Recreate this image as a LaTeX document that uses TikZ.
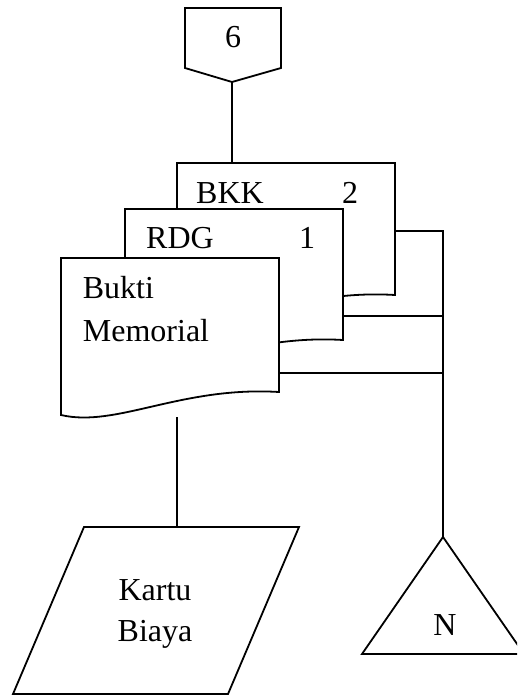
\documentclass[tikz,border=0pt]{standalone}
\usepackage{fontspec}
\setmainfont{Liberation Serif}
\begin{document}
\begin{tikzpicture}[x=1pt,y=-1pt,line width=1.8pt,line join=miter,
  lbl/.style={inner sep=0pt,anchor=base,font=\fontsize{32}{40}\selectfont},
  lbll/.style={lbl,anchor=base west},
  shp/.style={draw,fill=white},
  wire/.style={draw}]
\useasboundingbox (0,0) rectangle (517,695);
\clip (0,0) rectangle (517,695);

% off-page connector "6"
\draw[shp] (185,8) -- (281,8) -- (281,68) -- (232,82) -- (185,68) -- cycle;
\coordinate (opc) at (232,82);
\node[lbl] (six) at (233,48) {6};

% stacked documents, drawn back to front
\draw[shp] (177,163) -- (395,163) -- (395,295)
  .. controls (297,289) and (232,331) .. (177,318) -- cycle;
\coordinate (bkkTop) at (232,163);
\coordinate (bkkR) at (395,231);
\node[lbl] (bkk) at (230,203) {BKK};
\node[lbl] (bkkn) at (350,203) {2};

\draw[shp] (125,209) -- (343,209) -- (343,340)
  .. controls (245,334) and (180,376) .. (125,363) -- cycle;
\coordinate (rdgR) at (343,316);
\node[lbl] (rdg) at (180,248) {RDG};
\node[lbl] (rdgn) at (307,248) {1};

\draw[shp] (61,258) -- (279,258) -- (279,392)
  .. controls (181,386) and (116,428) .. (61,415) -- cycle;
\coordinate (bmR) at (279,373);
\coordinate (bmB) at (177,417);
\node[lbll] (bm1) at (82,298) {Bukti};
\node[lbll] (bm2) at (82,341) {Memorial};

% manual-input card
\draw[shp] (84,527) -- (299,527) -- (228,694) -- (13,694) -- cycle;
\coordinate (kbTop) at (177,527);
\node[lbl] (kb1) at (155,600) {Kartu};
\node[lbl] (kb2) at (155,641) {Biaya};

% file (triangle)
\draw[shp] (443,537) -- (524,654) -- (362,654) -- cycle;
\coordinate (nTop) at (443,537);
\node[lbl] (n) at (445,635) {N};

% connectors
\draw[wire] (opc) -- (bkkTop);
\draw[wire] (bkkR) -| (nTop);
\draw[wire] (rdgR) -- (rdgR -| nTop);
\draw[wire] (bmR) -- (bmR -| nTop);
\draw[wire] (bmB) -- (kbTop);
\end{tikzpicture}
\end{document}
